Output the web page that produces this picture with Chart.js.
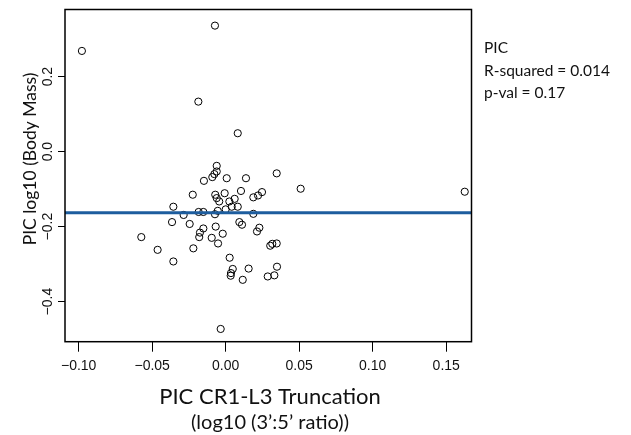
<!DOCTYPE html>
<html lang="en">
<head>
    <meta charset="UTF-8">
    <title>PIC CR1-L3 Truncation vs Body Mass</title>
    <script src="https://cdn.jsdelivr.net/npm/chart.js"></script>
    <style>
        body { margin: 0; background: #fff; }
        canvas { display: block; }
    </style>
</head>
<body>
    <canvas id="chart" width="631" height="435"></canvas>
</body>

<script>
// ---------------- data ----------------
const xValues = [
    -0.0073, -0.0978, -0.0186, 0.0082, -0.0061, -0.0061, -0.0077, -0.0091,
    0.0007, 0.0138, 0.0347, -0.0148, 0.051, 0.1626, -0.0224, -0.0071,
    -0.0061, -0.0044, -0.0007, 0.0025, 0.0061, 0.0104, 0.0082, 0.0041,
    0.0188, 0.022, 0.0247, -0.0356, -0.0286, -0.0184, -0.0152, -0.0073,
    -0.0054, 0.0, 0.0188, -0.0365, -0.0245, -0.0152, -0.0175, -0.018,
    -0.0068, -0.002, -0.0095, -0.0052, 0.0093, 0.0111, 0.0229, 0.0213,
    -0.0574, -0.0463, -0.022, -0.0356, 0.0303, 0.0317, 0.0347, 0.0027,
    0.0048, 0.0036, 0.0034, 0.0156, 0.0116, 0.0349, 0.0331, 0.0286,
    -0.0034
];
const yValues = [
    0.336, 0.2685, 0.1333, 0.049, -0.038, -0.053, -0.060, -0.068,
    -0.071, -0.071, -0.058, -0.078, -0.099, -0.107, -0.115, -0.115,
    -0.124, -0.133, -0.111, -0.133, -0.126, -0.105, -0.147, -0.147,
    -0.122, -0.117, -0.108, -0.147, -0.169, -0.161, -0.161, -0.167,
    -0.158, -0.154, -0.166, -0.188, -0.193, -0.205, -0.216, -0.228,
    -0.200, -0.219, -0.230, -0.245, -0.188, -0.195, -0.203, -0.213,
    -0.228, -0.262, -0.258, -0.293, -0.251, -0.246, -0.245, -0.283,
    -0.313, -0.324, -0.331, -0.312, -0.342, -0.307, -0.330, -0.333,
    -0.473
];

// fitted line (PIC regression)
const fitX = [-0.1093, 0.1672];
const fitY = [-0.163, -0.163];

const xTicks = [-0.10, -0.05, 0.00, 0.05, 0.10, 0.15];
const yTicks = [-0.4, -0.2, 0.0, 0.2];
const xTitle = ['PIC CR1-L3 Truncation', '(log10 (3\u2019:5\u2019 ratio))'];
const yTitle = 'PIC log10 (Body Mass)';
const noteLines = ['PIC', 'R-squared = 0.014', 'p-val = 0.17'];

// ---------------- drawing ----------------
const points = xValues.map((x, i) => ({x: x, y: yValues[i]}));
const fitPoints = fitX.map((x, i) => ({x: x, y: fitY[i]}));

// box, tick labels, titles and note
const framePlugin = {
    id: 'frame',
    afterDraw(chart) {
        const ctx = chart.ctx;
        const a = chart.chartArea;
        const sx = chart.scales.x;
        const sy = chart.scales.y;
        ctx.save();
        ctx.strokeStyle = '#000';
        ctx.lineWidth = 1.5;
        ctx.strokeRect(a.left, a.top, a.right - a.left, a.bottom - a.top);

        ctx.fillStyle = '#111';
        ctx.font = '14px "Liberation Sans"';
        ctx.textAlign = 'center';
        ctx.textBaseline = 'middle';
        xTicks.forEach(v => {
            ctx.fillText(v.toFixed(2).replace('-', '\u2212'), sx.getPixelForValue(v), 366);
        });
        yTicks.forEach(v => {
            ctx.save();
            ctx.translate(48, sy.getPixelForValue(v));
            ctx.rotate(-Math.PI / 2);
            ctx.fillText(v.toFixed(1).replace('-', '\u2212'), 0, 0);
            ctx.restore();
        });

        ctx.font = '22px Lato';
        ctx.fillText(xTitle[0], 270, 397);
        ctx.font = '20px Lato';
        ctx.fillText(xTitle[1], 270, 423);

        ctx.save();
        ctx.font = '17.5px Lato';
        ctx.translate(30, 159);
        ctx.rotate(-Math.PI / 2);
        ctx.fillText(yTitle, 0, 0);
        ctx.restore();

        ctx.font = '15.5px Lato';
        ctx.textAlign = 'left';
        noteLines.forEach((t, i) => ctx.fillText(t, 484, 48 + i * 22.5));
        ctx.restore();
    }
};

new Chart(document.getElementById('chart'), {
    type: 'scatter',
    data: {
        datasets: [{
            type: 'line',
            data: fitPoints,
            borderColor: '#1d5d9e',
            borderWidth: 3,
            pointRadius: 0,
            fill: false
        }, {
            data: points,
            pointRadius: 3.6,
            pointBorderWidth: 1,
            pointBorderColor: '#000',
            pointBackgroundColor: 'rgba(0,0,0,0)'
        }]
    },
    options: {
        responsive: false,
        animation: false,
        devicePixelRatio: 1,
        layout: { padding: { left: 58, right: 159.5, top: 9.5, bottom: 83.3 } },
        plugins: { legend: { display: false }, tooltip: { enabled: false } },
        scales: {
            x: {
                type: 'linear',
                min: -0.1093,
                max: 0.1672,
                afterBuildTicks: s => { s.ticks = xTicks.map(v => ({value: v})); },
                ticks: { display: false },
                grid: { drawOnChartArea: false, drawTicks: true, tickLength: 10, color: '#000', lineWidth: 1 },
                border: { display: false }
            },
            y: {
                type: 'linear',
                min: -0.507,
                max: 0.379,
                afterBuildTicks: s => { s.ticks = yTicks.map(v => ({value: v})); },
                ticks: { display: false },
                grid: { drawOnChartArea: false, drawTicks: true, tickLength: 7, color: '#000', lineWidth: 1 },
                border: { display: false }
            }
        }
    },
    plugins: [framePlugin]
});
</script>
</html>
